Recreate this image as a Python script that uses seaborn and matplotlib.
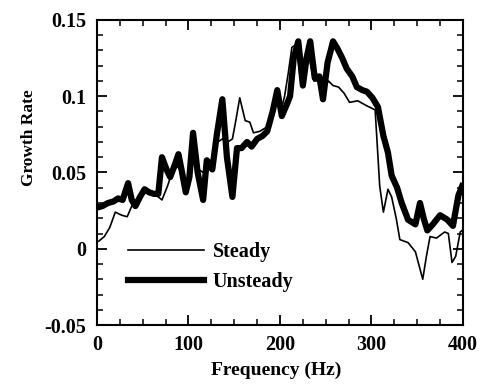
import matplotlib
matplotlib.use("Agg")
import matplotlib.pyplot as plt
import seaborn as sns
import pandas as pd
from matplotlib.ticker import MultipleLocator

unsteady_freq = [0, 6, 12, 18, 23, 28, 34, 38, 42, 47, 52, 57, 62, 67, 71, 76, 80, 85, 89, 93,
                 97, 101, 105, 110, 116, 120, 126, 131, 137, 142, 148, 153, 158, 164, 169, 175,
                 181, 186, 192, 197, 202, 207, 211, 215, 220, 225, 229, 233, 238, 243, 247, 252,
                 258, 263, 268, 273, 279, 284, 290, 295, 301, 307, 313, 318, 322, 328, 333, 340,
                 348, 353, 357, 361, 367, 375, 383, 389, 395, 399]
unsteady_rate = [0.027, 0.028, 0.030, 0.031, 0.033, 0.032, 0.043, 0.032, 0.028, 0.034, 0.039,
                 0.037, 0.036, 0.036, 0.060, 0.052, 0.047, 0.055, 0.062, 0.050, 0.037, 0.047,
                 0.076, 0.050, 0.032, 0.058, 0.052, 0.075, 0.098, 0.060, 0.034, 0.066, 0.066,
                 0.070, 0.067, 0.072, 0.074, 0.077, 0.090, 0.104, 0.087, 0.094, 0.100, 0.125,
                 0.136, 0.107, 0.125, 0.136, 0.112, 0.113, 0.098, 0.122, 0.136, 0.131, 0.125,
                 0.118, 0.113, 0.106, 0.104, 0.103, 0.099, 0.093, 0.074, 0.063, 0.048, 0.040,
                 0.030, 0.019, 0.016, 0.030, 0.020, 0.012, 0.016, 0.022, 0.019, 0.015, 0.035,
                 0.041]

steady_freq = [2, 8, 14, 20, 27, 33, 38, 45, 52, 57, 63, 67, 71, 77, 82, 88, 93, 97, 101, 106,
               111, 116, 121, 126, 132, 137, 143, 148, 152, 156, 162, 167, 171, 178, 186, 192,
               197, 201, 205, 209, 213, 218, 222, 227, 232, 237, 243, 248, 253, 258, 264, 270,
               276, 285, 294, 304, 309, 313, 318, 322, 327, 331, 340, 348, 356, 360, 364, 371,
               380, 384, 388, 392, 397, 399]
steady_rate = [0.005, 0.008, 0.014, 0.024, 0.022, 0.021, 0.028, 0.034, 0.037, 0.036, 0.035,
               0.034, 0.032, 0.041, 0.050, 0.054, 0.050, 0.045, 0.048, 0.060, 0.052, 0.050,
               0.058, 0.058, 0.070, 0.072, 0.070, 0.072, 0.085, 0.099, 0.084, 0.083, 0.076,
               0.077, 0.080, 0.090, 0.100, 0.090, 0.100, 0.115, 0.132, 0.134, 0.113, 0.118,
               0.125, 0.110, 0.110, 0.105, 0.110, 0.107, 0.106, 0.102, 0.096, 0.097, 0.094,
               0.091, 0.041, 0.024, 0.039, 0.034, 0.020, 0.006, 0.004, -0.002, -0.020, -0.005,
               0.008, 0.007, 0.011, 0.010, -0.009, -0.005, 0.011, 0.012]

x_ticks = [0, 100, 200, 300, 400]
x_tick_labels = ["0", "100", "200", "300", "400"]
y_ticks = [-0.05, 0, 0.05, 0.1, 0.15]
y_tick_labels = ["-0.05", "0", "0.05", "0.1", "0.15"]

plt.rcParams.update({
    "xtick.direction": "in", "ytick.direction": "in",
    "xtick.top": True, "ytick.right": True,
    "xtick.major.size": 7, "ytick.major.size": 7,
    "xtick.minor.size": 4, "ytick.minor.size": 4,
    "xtick.major.width": 1.3, "ytick.major.width": 1.3,
    "xtick.minor.width": 1.1, "ytick.minor.width": 1.1,
    "xtick.color": "black", "ytick.color": "black",
    "axes.edgecolor": "black", "axes.linewidth": 1.5,
    "axes.facecolor": "white", "figure.facecolor": "white",
})
plt.rcParams['font.family'] = ['Liberation Serif', 'DejaVu Serif']

fig = plt.figure(figsize=(4.84, 3.84), dpi=100)
ax = fig.add_axes([0.2004, 0.1536, 0.7562, 0.7944])

steady_df = pd.DataFrame({"f": steady_freq, "g": steady_rate})
unsteady_df = pd.DataFrame({"f": unsteady_freq, "g": unsteady_rate})

sns.lineplot(data=steady_df, x="f", y="g", ax=ax, color="black", linewidth=1.2,
             label="Steady", sort=False)
sns.lineplot(data=unsteady_df, x="f", y="g", ax=ax, color="black", linewidth=4.5,
             label="Unsteady", sort=False)

ax.set_xlim(0, 400)
ax.set_ylim(-0.05, 0.15)
ax.set_xticks(x_ticks)
ax.set_xticklabels(x_tick_labels)
ax.set_yticks(y_ticks)
ax.set_yticklabels(y_tick_labels)
ax.xaxis.set_minor_locator(MultipleLocator(25))
ax.yaxis.set_minor_locator(MultipleLocator(0.01))
ax.tick_params(which="both", direction="in", top=True, right=True, bottom=True, left=True,
               zorder=5)
ax.tick_params(axis="x", which="major", labelsize=14.5, pad=7)
ax.tick_params(axis="y", which="major", labelsize=14.5, pad=8)
for lab in ax.get_xticklabels() + ax.get_yticklabels():
    lab.set_fontweight("bold")

ax.set_xlabel("Frequency (Hz)", fontsize=14, fontweight="bold")
ax.set_ylabel("Growth Rate", fontsize=12.5, fontweight="bold")
ax.xaxis.set_label_coords(0.49, -0.121)
ax.yaxis.set_label_coords(-0.165, 0.613)

leg = ax.legend(loc="center left", bbox_to_anchor=(0.085, 0.19), frameon=False,
                borderpad=0, borderaxespad=0,
                handlelength=3.75, handletextpad=0.45, labelspacing=0.5,
                prop={"size": 14.5, "weight": "bold"})

fig.savefig("out.png", dpi=100)
